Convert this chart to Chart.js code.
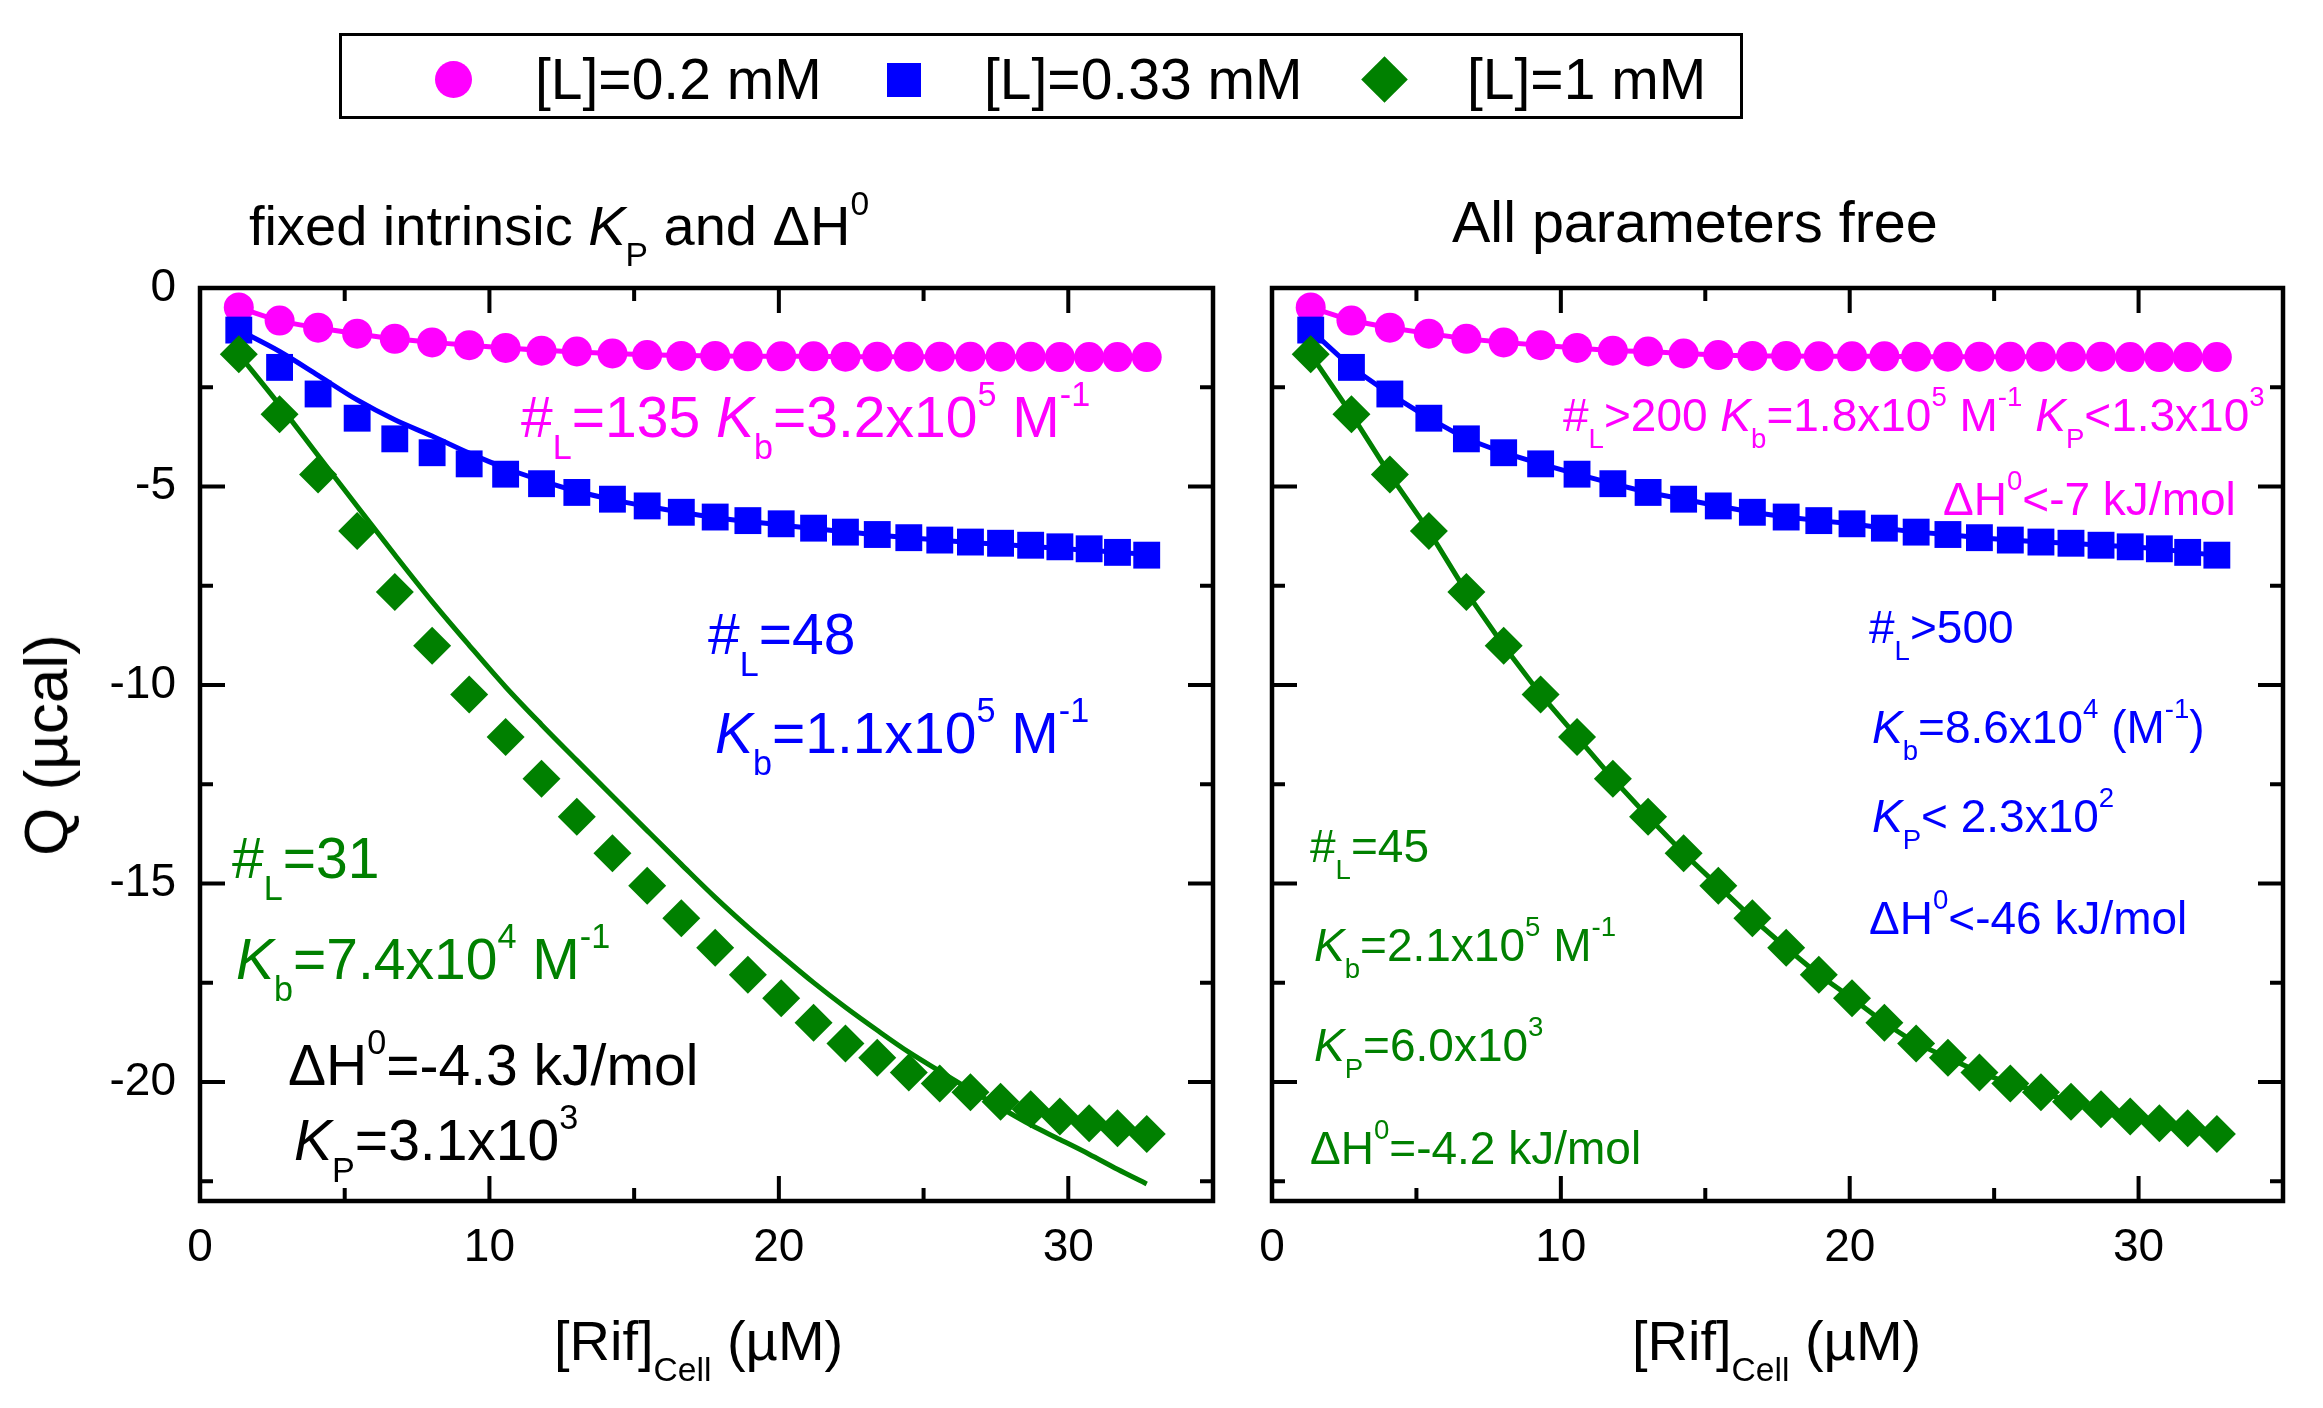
<!DOCTYPE html>
<html>
<head>
<meta charset="utf-8">
<script src="https://cdn.jsdelivr.net/npm/chart.js@4.4.0/dist/chart.umd.min.js"></script>
<style>
  body { margin: 0; background: #fff; }
  #page { position: relative; width: 2323px; height: 1408px; overflow: hidden;
          font-family: "Liberation Sans", Arial, sans-serif; color: #000; }
  canvas { position: absolute; top: 0; }
  .t { position: absolute; white-space: nowrap; line-height: 1; }
  .t sub, .t sup { font-size: 0.6em; line-height: 0; vertical-align: baseline; position: relative; }
  .t sub { top: 0.63em; }
  .t sup { top: -0.9em; }
  .pk { color: #ff00ff; }
  .bl { color: #0000ff; }
  .gr { color: #008000; }
  .big { font-size: 57px; }
  .small { font-size: 46px; }
  #legend { position: absolute; left: 339px; top: 33px; width: 1404px; height: 86px;
            box-sizing: border-box; border: 3px solid #000; }
  .mk { position: absolute; }
</style>
</head>
<body>
<div id="page">
  <canvas id="left" width="1250" height="1408" style="left:0;width:1250px;height:1408px"></canvas>
  <canvas id="right" width="1091" height="1408" style="left:1232px;width:1091px;height:1408px"></canvas>

  <!-- legend -->
  <div id="legend"></div>
  <div class="mk" style="left:435px;top:61px;width:37px;height:37px;border-radius:50%;background:#ff00ff"></div>
  <div class="mk" style="left:887px;top:63px;width:34px;height:34px;background:#0000ff"></div>
  <div class="mk" style="left:1368px;top:63px;width:33px;height:33px;background:#008000;transform:rotate(45deg)"></div>
  <div class="t" style="font-size:57px;left:535px;top:51px">[L]=0.2 mM</div>
  <div class="t" style="font-size:57px;left:984px;top:51px">[L]=0.33 mM</div>
  <div class="t" style="font-size:57px;left:1467px;top:51px">[L]=1 mM</div>

  <!-- panel titles -->
  <div class="t" style="font-size:56px;left:249px;top:198px">fixed intrinsic <i>K</i><sub>P</sub> and ΔH<sup>0</sup></div>
  <div class="t" style="font-size:57.5px;left:1452px;top:194px">All parameters free</div>

  <!-- axis titles -->
  <div class="t" style="font-size:62px;left:46px;top:745px;transform:translate(-50%,-50%) rotate(-90deg)">Q (µcal)</div>
  <div class="t" style="font-size:56px;left:554px;top:1313px">[Rif]<sub>Cell</sub> (µM)</div>
  <div class="t" style="font-size:56px;left:1632px;top:1313px">[Rif]<sub>Cell</sub> (µM)</div>

  <!-- left panel annotations -->
  <div class="t big pk" style="left:521px;top:389px">#<sub>L</sub>=135 <i>K</i><sub>b</sub>=3.2x10<sup>5</sup> M<sup>-1</sup></div>
  <div class="t big bl" style="left:708px;top:606px">#<sub>L</sub>=48</div>
  <div class="t big bl" style="left:715px;top:705px"><i>K</i><sub>b</sub>=1.1x10<sup>5</sup> M<sup>-1</sup></div>
  <div class="t big gr" style="left:232px;top:830px">#<sub>L</sub>=31</div>
  <div class="t big gr" style="left:236px;top:931px"><i>K</i><sub>b</sub>=7.4x10<sup>4</sup> M<sup>-1</sup></div>
  <div class="t big" style="left:288px;top:1037px">ΔH<sup>0</sup>=-4.3 kJ/mol</div>
  <div class="t big" style="left:294px;top:1112px"><i>K</i><sub>P</sub>=3.1x10<sup>3</sup></div>

  <!-- right panel annotations -->
  <div class="t small pk" style="left:1563px;top:392px">#<sub>L</sub>&gt;200 <i>K</i><sub>b</sub>=1.8x10<sup>5</sup> M<sup>-1</sup> <i>K</i><sub>P</sub>&lt;1.3x10<sup>3</sup></div>
  <div class="t small pk" style="left:1943px;top:476px">ΔH<sup>0</sup>&lt;-7 kJ/mol</div>
  <div class="t small bl" style="left:1869px;top:604px">#<sub>L</sub>&gt;500</div>
  <div class="t small bl" style="left:1872px;top:704px"><i>K</i><sub>b</sub>=8.6x10<sup>4</sup> (M<sup>-1</sup>)</div>
  <div class="t small bl" style="left:1872px;top:793px"><i>K</i><sub>P</sub>&lt; 2.3x10<sup>2</sup></div>
  <div class="t small bl" style="left:1869px;top:895px">ΔH<sup>0</sup>&lt;-46 kJ/mol</div>
  <div class="t small gr" style="left:1310px;top:823px">#<sub>L</sub>=45</div>
  <div class="t small gr" style="left:1314px;top:922px"><i>K</i><sub>b</sub>=2.1x10<sup>5</sup> M<sup>-1</sup></div>
  <div class="t small gr" style="left:1314px;top:1022px"><i>K</i><sub>P</sub>=6.0x10<sup>3</sup></div>
  <div class="t small gr" style="left:1310px;top:1125px">ΔH<sup>0</sup>=-4.2 kJ/mol</div>
</div>

<script>
// [Rif] in the cell (µM) for each injection, shared by the three titrations
const concs = [1.34, 2.75, 4.08, 5.43, 6.73, 8.02, 9.30, 10.56, 11.80, 13.02, 14.25, 15.45, 16.63, 17.80,
	18.93, 20.08, 21.20, 22.30, 23.40, 24.49, 25.56, 26.62, 27.66, 28.70, 29.71, 30.72, 31.70, 32.71];

// measured Q (µcal)
const qPink = [-0.49, -0.82, -1.00, -1.15, -1.28, -1.37, -1.44, -1.51, -1.58, -1.60, -1.65, -1.69, -1.71, -1.71,
	-1.72, -1.72, -1.72, -1.73, -1.73, -1.73, -1.73, -1.73, -1.73, -1.73, -1.74, -1.74, -1.74, -1.74];
const qBlue = [-1.06, -2.00, -2.67, -3.28, -3.80, -4.15, -4.43, -4.69, -4.93, -5.15, -5.32, -5.49, -5.65, -5.77,
	-5.86, -5.94, -6.05, -6.15, -6.21, -6.29, -6.35, -6.40, -6.43, -6.48, -6.52, -6.57, -6.66, -6.73];
const qGreen = [-1.67, -3.18, -4.70, -6.12, -7.66, -9.01, -10.24, -11.31, -12.36, -13.32, -14.24, -15.06, -15.88, -16.62,
	-17.30, -17.89, -18.51, -19.03, -19.39, -19.76, -20.04, -20.26, -20.50, -20.69, -20.87, -21.04, -21.17, -21.31];

// fit curves with fixed intrinsic K_P and dH0 (left panel)
const fitPinkFixed = [-0.49, -0.82, -1.00, -1.15, -1.28, -1.37, -1.44, -1.51, -1.57, -1.61, -1.65, -1.68, -1.70, -1.71,
	-1.72, -1.72, -1.72, -1.73, -1.73, -1.73, -1.73, -1.73, -1.73, -1.73, -1.74, -1.74, -1.74, -1.74];
const fitBlueFixed = [-1.06, -1.60, -2.20, -2.82, -3.32, -3.73, -4.16, -4.54, -4.85, -5.12, -5.33, -5.50, -5.65, -5.78,
	-5.88, -5.97, -6.06, -6.14, -6.22, -6.29, -6.35, -6.41, -6.46, -6.51, -6.56, -6.61, -6.66, -6.71];
const fitGreenFixed = [-1.67, -2.95, -4.22, -5.50, -6.72, -7.90, -9.00, -10.05, -11.00, -11.90, -12.80, -13.67, -14.52, -15.35,
	-16.10, -16.82, -17.50, -18.12, -18.70, -19.25, -19.73, -20.20, -20.65, -21.08, -21.45, -21.82, -22.20, -22.57];

// axis ticks
const xTicks = [0, 10, 20, 30];
const xMinorTicks = [5, 15, 25, 35];
const yTicks = [0, -5, -10, -15, -20];
const yMinorTicks = [-2.5, -7.5, -12.5, -17.5, -22.5];

const PINK = "#ff00ff";
const BLUE = "#0000ff";
const GREEN = "#008000";
const FONT = "'Liberation Sans', Arial, sans-serif";

function toPoints(xs, ys) {
	return xs.map((x, i) => ({ x: x, y: ys[i] }));
}

// closed frame with inward major/minor ticks on all four sides
const framePlugin = {
	id: "frame",
	afterDatasetsDraw(chart) {
		const { ctx, chartArea: a, scales } = chart;
		const sx = scales.x;
		const sy = scales.y;
		ctx.save();
		ctx.strokeStyle = "#000";
		ctx.lineWidth = 4;
		ctx.beginPath();
		const vTick = (v, len) => {
			const px = sx.getPixelForValue(v);
			ctx.moveTo(px, a.bottom);
			ctx.lineTo(px, a.bottom - len);
			ctx.moveTo(px, a.top);
			ctx.lineTo(px, a.top + len);
		};
		const hTick = (v, len) => {
			const py = sy.getPixelForValue(v);
			ctx.moveTo(a.left, py);
			ctx.lineTo(a.left + len, py);
			ctx.moveTo(a.right, py);
			ctx.lineTo(a.right - len, py);
		};
		xTicks.forEach((v) => vTick(v, 25));
		xMinorTicks.forEach((v) => vTick(v, 13));
		yTicks.forEach((v) => hTick(v, 25));
		yMinorTicks.forEach((v) => hTick(v, 13));
		ctx.stroke();
		ctx.lineWidth = 4.5;
		ctx.strokeRect(a.left, a.top, a.width, a.height);
		ctx.restore();
	},
};

function lineSet(ys, color, order, smooth) {
	return {
		data: toPoints(concs, ys),
		showLine: true,
		borderColor: color,
		borderWidth: 5,
		pointRadius: 0,
		tension: 0,
		cubicInterpolationMode: smooth ? "monotone" : "default",
		order: order,
	};
}

function markerSet(label, ys, color, style, radius, order) {
	return {
		label: label,
		data: toPoints(concs, ys),
		showLine: false,
		pointStyle: style,
		pointRadius: radius,
		pointBackgroundColor: color,
		pointBorderWidth: 0,
		borderColor: color,
		order: order,
	};
}

function renderPanel(canvasId, lines, yAxisWidth, padRight, showYLabels) {
	const ctx = document.getElementById(canvasId);
	return new Chart(ctx, {
		type: "scatter",
		data: {
			datasets: lines.concat([
				markerSet("[L]=0.2 mM", qPink, PINK, "circle", 15, 3),
				markerSet("[L]=0.33 mM", qBlue, BLUE, "rect", 19, 2),
				markerSet("[L]=1 mM", qGreen, GREEN, "rectRot", 19, 1),
			]),
		},
		options: {
			responsive: false,
			animation: false,
			events: [],
			layout: { padding: { top: 288, left: 0, right: padRight, bottom: 0 } },
			plugins: { legend: { display: false }, tooltip: { enabled: false } },
			scales: {
				x: {
					type: "linear",
					min: 0,
					max: 35,
					afterBuildTicks: (s) => { s.ticks = xTicks.map((v) => ({ value: v })); },
					afterFit: (s) => { s.height = 207; },
					grid: { display: false, drawTicks: false },
					border: { display: false },
					ticks: { color: "#000", padding: 20, maxRotation: 0, autoSkip: false,
						font: { family: FONT, size: 46 } },
				},
				y: {
					type: "linear",
					min: -23,
					max: 0,
					afterBuildTicks: (s) => { s.ticks = yTicks.map((v) => ({ value: v })); },
					afterFit: (s) => { s.width = yAxisWidth; },
					grid: { display: false, drawTicks: false },
					border: { display: false },
					ticks: { display: showYLabels, color: "#000", padding: 24,
						font: { family: FONT, size: 46 } },
				},
			},
		},
		plugins: [framePlugin],
	});
}

// left: fits with fixed intrinsic K_P and dH0
renderPanel("left", [
	lineSet(fitPinkFixed, PINK, 6, true),
	lineSet(fitBlueFixed, BLUE, 5, true),
	lineSet(fitGreenFixed, GREEN, 4, true),
], 200, 37, true);

// right: all parameters free, fit passes through the points
renderPanel("right", [
	lineSet(qPink, PINK, 6, false),
	lineSet(qBlue, BLUE, 5, false),
	lineSet(qGreen, GREEN, 4, false),
], 40, 40, false);
</script>
</body>
</html>
